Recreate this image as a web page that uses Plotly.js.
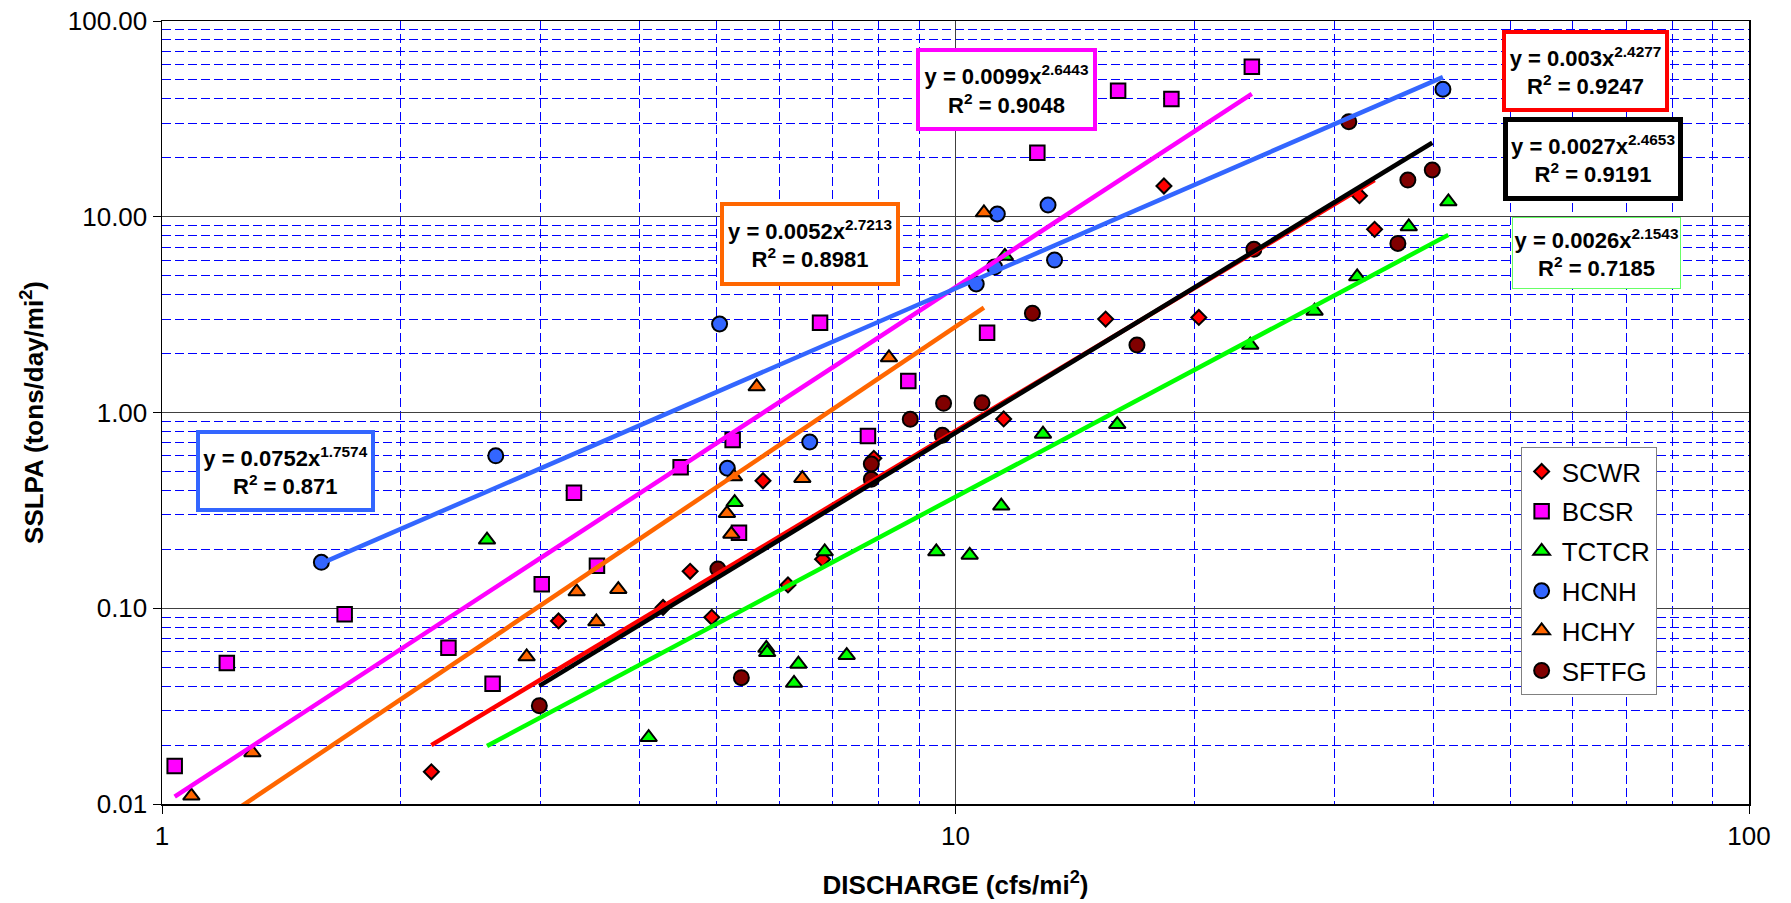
<!DOCTYPE html>
<html>
<head>
<meta charset="utf-8">
<script src="https://cdn.plot.ly/plotly-3.0.1.min.js"></script>
<style>html,body{margin:0;padding:0;background:#fff;}#chart{width:1791px;height:903px;}</style>
</head>
<body>
<div id="chart"></div>
<script>
// ---- data ----
const seriesNames = ['SCWR', 'BCSR', 'TCTCR', 'HCNH', 'HCHY', 'SFTFG'];

const scwrX = [2.185, 3.16, 4.28, 4.63, 4.93, 5.72, 6.15, 6.80, 7.89, 11.5, 15.46, 18.31, 20.26, 32.29, 33.74];
const scwrY = [0.0146, 0.0861, 0.101, 0.1545, 0.0899, 0.448, 0.1315, 0.178, 0.583, 0.927, 3.00, 14.36, 3.06, 12.81, 8.62];

const bcsrX = [1.0375, 1.207, 1.699, 2.296, 2.61, 3.01, 3.305, 3.533, 4.504, 5.238, 5.335, 6.75, 7.756, 8.72, 10.96, 12.68, 16.03, 18.71, 23.63];
const bcsrY = [0.01563, 0.0525, 0.0931, 0.0629, 0.0412, 0.1326, 0.389, 0.165, 0.525, 0.724, 0.243, 2.876, 0.759, 1.45, 2.557, 21.26, 44.06, 39.96, 58.4];

const tctcrX = [2.568, 4.105, 5.268, 5.776, 5.79, 6.259, 6.339, 6.842, 7.293, 9.458, 10.42, 11.42, 11.54, 12.89, 15.99, 23.52, 28.35, 32.08, 37.26, 41.8];
const tctcrY = [0.2232, 0.0219, 0.3476, 0.0625, 0.0595, 0.0414, 0.0519, 0.1945, 0.0575, 0.1945, 0.187, 0.333, 6.30, 0.7765, 0.87, 2.212, 3.30, 4.94, 8.9, 11.94];

const hcnhX = [1.588, 2.634, 5.043, 5.158, 6.551, 10.62, 11.2, 11.29, 13.08, 13.33, 41.14];
const hcnhY = [0.1717, 0.601, 2.832, 0.519, 0.707, 4.534, 5.53, 10.33, 11.48, 6.01, 44.8];

const hchyX = [1.089, 1.300, 2.881, 3.331, 3.527, 3.759, 5.152, 5.218, 5.258, 5.616, 6.412, 8.244, 10.86];
const hchyY = [0.011, 0.0183, 0.0566, 0.1215, 0.0854, 0.1249, 0.3055, 0.2394, 0.47, 1.354, 0.461, 1.905, 10.49];

const sftfgX = [2.989, 5.018, 5.372, 7.833, 7.833, 8.77, 9.625, 9.66, 10.8, 12.5, 16.93, 23.77, 31.31, 36.1, 37.16, 39.89];
const sftfgY = [0.0318, 0.1587, 0.0442, 0.4558, 0.5456, 0.923, 0.765, 1.114, 1.122, 3.21, 2.212, 6.816, 30.6, 7.31, 15.4, 17.33];

// power trend lines (end points, same order as seriesNames)
const trendX0 = [2.185, 1.0375, 2.568, 1.588, 1.089, 2.989];
const trendX1 = [33.74, 23.63, 41.8, 41.14, 10.86, 39.89];
const trendY0 = [0.0200, 0.0109, 0.0198, 0.1695, 0.00656, 0.0401];
const trendY1 = [15.38, 42.4, 8.08, 51.7, 3.43, 23.87];

// equation labels
const eqCoef = ['0.003', '0.0099', '0.0026', '0.0752', '0.0052', '0.0027'];
const eqPow = ['2.4277', '2.6443', '2.1543', '1.7574', '2.7213', '2.4653'];
const eqR2 = ['0.9247', '0.9048', '0.7185', '0.871', '0.8981', '0.9191'];

const yTickVals = [0.01, 0.1, 1, 10, 100];
const xTickVals = [1, 10, 100];

// ---- styles ----
const FONT = 'Liberation Sans, Arial, Helvetica, sans-serif';
const markerStyle = [
  {symbol: 'diamond', size: 11.5, color: '#FF0000'},
  {symbol: 'square', size: 14.5, color: '#FF00FF'},
  {symbol: 'triangle-up', size: 14.5, color: '#00FF00'},
  {symbol: 'circle', size: 15, color: '#3366FF'},
  {symbol: 'triangle-up', size: 14.5, color: '#FF6600'},
  {symbol: 'circle', size: 15, color: '#800000'}
];
const trendColor = ['#FF0000', '#FF00FF', '#00FF00', '#3366FF', '#FF6600', '#000000'];
const boxStyle = [
  {x: 0.8967, y: 0.9361, w: 159, h: 74, bw: 4, col: '#FF0000'},
  {x: 0.5319, y: 0.9125, w: 173, h: 75, bw: 4, col: '#FF00FF'},
  {x: 0.9037, y: 0.7037, w: 167, h: 70, bw: 1, col: '#66FF66'},
  {x: 0.0776, y: 0.4253, w: 171, h: 74, bw: 4, col: '#3366FF'},
  {x: 0.4081, y: 0.7152, w: 172, h: 76, bw: 4, col: '#FF6600'},
  {x: 0.9015, y: 0.8238, w: 170, h: 74, bw: 5, col: '#000000'}
];

const xs = [scwrX, bcsrX, tctcrX, hcnhX, hchyX, sftfgX];
const ys = [scwrY, bcsrY, tctcrY, hcnhY, hchyY, sftfgY];

const traces = [];
seriesNames.forEach((name, i) => {
  traces.push({
    type: 'scatter', mode: 'markers', name: name,
    x: xs[i], y: ys[i],
    legendgroup: name,
    marker: {symbol: markerStyle[i].symbol, size: markerStyle[i].size, color: markerStyle[i].color,
             line: {color: '#000000', width: 2}},
    hoverinfo: 'skip'
  });
});
seriesNames.forEach((name, i) => {
  traces.push({
    type: 'scatter', mode: 'lines', name: name + ' trend',
    x: [trendX0[i], trendX1[i]], y: [trendY0[i], trendY1[i]],
    showlegend: false, legendgroup: name,
    line: {color: trendColor[i], width: 4.5},
    hoverinfo: 'skip'
  });
});

const annotations = seriesNames.map((name, i) => ({
  xref: 'paper', yref: 'paper', x: boxStyle[i].x, y: boxStyle[i].y,
  xanchor: 'center', yanchor: 'middle',
  text: 'y = ' + eqCoef[i] + 'x<sup>' + eqPow[i] + '</sup><br>R<sup>2</sup> = ' + eqR2[i],
  showarrow: false, align: 'center', valign: 'middle',
  width: boxStyle[i].w, height: boxStyle[i].h,
  bgcolor: '#FFFFFF', bordercolor: boxStyle[i].col, borderwidth: boxStyle[i].bw, borderpad: 0,
  font: {family: FONT, size: 22, color: '#000000', weight: 'bold'}
}));

const gridMinor = {dtick: 'D1', showgrid: true, gridcolor: '#0000FF', griddash: '9px,4px', gridwidth: 1, ticks: ''};

const layout = {
  width: 1791, height: 903,
  margin: {l: 162, r: 42, t: 21, b: 99, pad: 0},
  paper_bgcolor: '#FFFFFF', plot_bgcolor: '#FFFFFF',
  font: {family: FONT, color: '#000000'},
  showlegend: true,
  hovermode: false,
  xaxis: {
    type: 'log', range: [0, 2], tickmode: 'array', tickvals: xTickVals, ticktext: xTickVals.map(String),
    ticks: 'outside', ticklen: 8, tickcolor: '#000000', tickwidth: 1,
    tickfont: {family: FONT, size: 26, color: '#000000'},
    showline: true, linecolor: '#000000', linewidth: 1.5, mirror: true,
    showgrid: true, gridcolor: '#404040', gridwidth: 1,
    minor: gridMinor,
    zeroline: false,
    title: {text: 'DISCHARGE (cfs/mi<sup>2</sup>)', font: {family: FONT, size: 26, color: '#000000', weight: 'bold'}, standoff: 26}
  },
  yaxis: {
    type: 'log', range: [-2, 2], tickmode: 'array', tickvals: yTickVals,
    ticktext: yTickVals.map(v => v.toFixed(2)),
    ticks: 'outside', ticklen: 8, tickcolor: '#000000', tickwidth: 1,
    tickfont: {family: FONT, size: 26, color: '#000000'},
    showline: true, linecolor: '#000000', linewidth: 1.5, mirror: true,
    showgrid: true, gridcolor: '#404040', gridwidth: 1,
    minor: gridMinor,
    zeroline: false,
    title: {text: 'SSLPA (tons/day/mi<sup>2</sup>)', font: {family: FONT, size: 26, color: '#000000', weight: 'bold'}, standoff: 16}
  },
  legend: {
    x: 0.8561, y: 0.4559, xanchor: 'left', yanchor: 'top',
    bgcolor: '#FFFFFF', bordercolor: '#808080', borderwidth: 1,
    font: {family: FONT, size: 26, color: '#000000'},
    traceorder: 'grouped', tracegroupgap: 3,
    itemwidth: 30, entrywidth: 126, entrywidthmode: 'pixels'
  },
  annotations: annotations
};

Plotly.newPlot('chart', traces, layout, {staticPlot: true, displayModeBar: false});
</script>
</body>
</html>
